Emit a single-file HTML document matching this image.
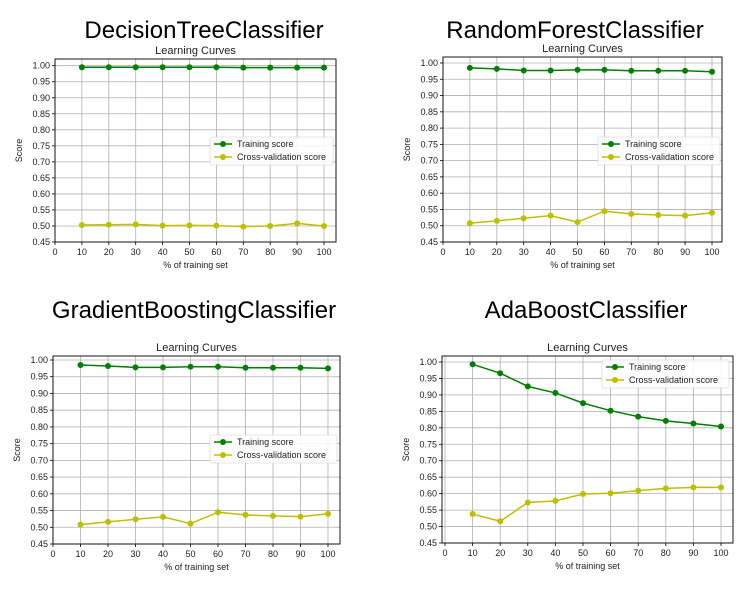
<!DOCTYPE html>
<html><head><meta charset="utf-8"><style>
body{margin:0;background:#fff;}
svg{display:block;font-family:"Liberation Sans",sans-serif;}
</style></head><body>
<svg id="s" width="756" height="592"></svg>
<script>
const xCats=[10,20,30,40,50,60,70,80,90,100];
const yTicks=[0.45,0.50,0.55,0.60,0.65,0.70,0.75,0.80,0.85,0.90,0.95,1.00];
const xTicks=[0,10,20,30,40,50,60,70,80,90,100];
const names=["DecisionTreeClassifier","RandomForestClassifier","GradientBoostingClassifier","AdaBoostClassifier"];
const dtTrain=[.995,.995,.995,.995,.995,.995,.994,.994,.994,.994];
const dtCv=[.503,.504,.505,.501,.502,.501,.498,.500,.508,.500];
const rfTrain=[.985,.982,.977,.977,.979,.979,.976,.976,.976,.973];
const rfCv=[.508,.515,.523,.531,.511,.545,.536,.533,.531,.540];
const gbTrain=[.985,.982,.978,.978,.980,.980,.977,.977,.977,.975];
const gbCv=[.508,.516,.524,.531,.511,.545,.537,.534,.532,.540];
const adaTrain=[.993,.966,.926,.906,.875,.852,.834,.821,.813,.804];
const adaCv=[.538,.516,.573,.578,.599,.601,.609,.616,.619,.619];
const trains=[dtTrain,rfTrain,gbTrain,adaTrain];
const cvs=[dtCv,rfCv,gbCv,adaCv];
// layout (pixels)
const L=[
 {box:[55,59,336,242],x0:55,x100:324,y1:65.7,y045:242,title:[204,30],leg:[210,137]},
 {box:[443,57,722,242],x0:443,x100:712,y1:63,y045:242,title:[575,30],leg:[598,137]},
 {box:[53,356,340,544],x0:53,x100:328,y1:360,y045:544,title:[194,310],leg:[210,435]},
 {box:[442,356,733,543],x0:445,x100:721,y1:362,y045:543,title:[586,310],leg:[602,360]}
];
const NS="http://www.w3.org/2000/svg";
const svg=document.getElementById('s');
function el(t,a,p,txt){const e=document.createElementNS(NS,t);for(const k in a)e.setAttribute(k,a[k]);if(txt!==undefined)e.textContent=txt;(p||svg).appendChild(e);return e;}
names.forEach((nm,i)=>{
 const c=L[i];const [bx0,by0,bx1,by1]=c.box;
 const X=v=>c.x0+(c.x100-c.x0)*v/100;
 const Y=v=>c.y045+(c.y1-c.y045)*(v-0.45)/0.55;
 const g=el('g',{});
 
 
 let t=el('text',{x:c.title[0],y:c.title[1]+8,'font-size':24,'text-anchor':'middle',fill:'#000'},g,nm);
 
 t=el('text',{x:(bx0+bx1)/2,y:by0-5,'font-size':11,'text-anchor':'middle',fill:'#222'},g,'Learning Curves');
 
 yTicks.forEach(v=>{const y=Y(v);
  el('line',{x1:bx0,x2:bx1,y1:y,y2:y,stroke:'#b0b0b0','stroke-width':0.8},g);
  el('line',{x1:bx0-3,x2:bx0,y1:y,y2:y,stroke:'#000','stroke-width':0.8},g);
  const tl=el('text',{x:bx0-5,y:y+3,'font-size':9,'text-anchor':'end',fill:'#222'},g,v.toFixed(2));
  
 });
 xTicks.forEach(v=>{const x=X(v);
  el('line',{x1:x,x2:x,y1:by0,y2:by1,stroke:'#b0b0b0','stroke-width':0.8},g);
  el('line',{x1:x,x2:x,y1:by1,y2:by1+3,stroke:'#000','stroke-width':0.8},g);
  const tl=el('text',{x:x,y:by1+13,'font-size':9,'text-anchor':'middle',fill:'#222'},g,String(v));
  
 });
 el('rect',{x:bx0,y:by0,width:bx1-bx0,height:by1-by0,fill:'none',stroke:'#000','stroke-width':0.9},g);
 t=el('text',{x:(bx0+bx1)/2,y:by1+26,'font-size':9,'text-anchor':'middle',fill:'#222'},g,'% of training set');
 
 const yl=(by0+by1)/2;
 t=el('text',{x:bx0-33,y:yl,'font-size':9,'text-anchor':'middle',fill:'#222',transform:`rotate(-90 ${bx0-33} ${yl})`},g,'Score');
 
 [[trains[i],'#008000','training-score-line'],[cvs[i],'#bfbf00','cv-score-line']].forEach(([d,col,n])=>{
  const pl=el('polyline',{points:d.map((v,j)=>X(xCats[j])+','+Y(v)).join(' '),fill:'none',stroke:col,'stroke-width':1.5},g);
  
  d.forEach((v,j)=>{const m=el('circle',{cx:X(xCats[j]),cy:Y(v),r:3,fill:col},g);
   });
 });
 const [lx,ly]=c.leg;
 const lg=el('g',{},g);
 
 el('rect',{x:lx,y:ly,width:(i==0?123:(i==1?122:127)),height:28,fill:'#fff','fill-opacity':0.85,stroke:'#ddd','stroke-width':0.8,rx:2},lg);
 [['Training score','#008000'],['Cross-validation score','#bfbf00']].forEach(([s,col],k)=>{
  const yy=ly+7+k*13;
  el('line',{x1:lx+4,x2:lx+22,y1:yy,y2:yy,stroke:col,'stroke-width':1.5},lg);
  el('circle',{cx:lx+13,cy:yy,r:3,fill:col},lg);
  const le=el('text',{x:lx+27,y:yy+3,'font-size':9,fill:'#222'},lg,s);
  
 });
});
</script>
</body></html>
